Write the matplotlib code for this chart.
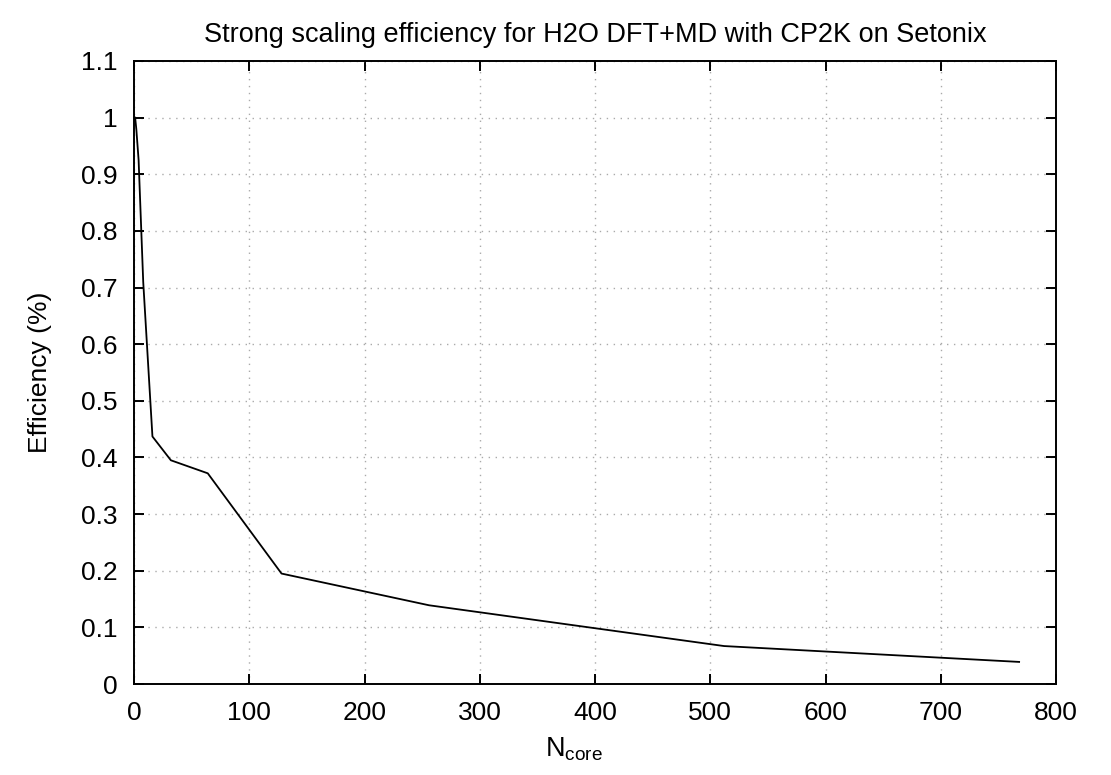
import matplotlib
matplotlib.use("Agg")
import matplotlib.pyplot as plt

# Strong scaling data
n_cores = [1, 2, 4, 8, 16, 32, 64, 128, 256, 512, 768]
efficiency = [1.0, 0.98, 0.925, 0.71, 0.437, 0.395, 0.372, 0.195, 0.139, 0.067, 0.039]

x_ticks = [0, 100, 200, 300, 400, 500, 600, 700, 800]
y_ticks = [0, 0.1, 0.2, 0.3, 0.4, 0.5, 0.6, 0.7, 0.8, 0.9, 1.0, 1.1]
y_tick_labels = ["0", "0.1", "0.2", "0.3", "0.4", "0.5", "0.6", "0.7", "0.8", "0.9", "1", "1.1"]

plt.rcParams['font.family'] = ['Liberation Sans', 'DejaVu Sans']
plt.rcParams['mathtext.fontset'] = 'custom'
plt.rcParams['mathtext.rm'] = 'Liberation Sans'

fig = plt.figure(figsize=(11.11, 7.75), dpi=100)
# axes box: x 134..1056 px, y 61..684 px
ax = fig.add_axes([134 / 1111, 1 - 684 / 775, 922 / 1111, 623 / 775])

ax.plot(n_cores, efficiency, color='black', linewidth=1.3)

ax.set_xlim(0, 800)
ax.set_ylim(0, 1.1)
ax.set_xticks(x_ticks)
ax.set_yticks(y_ticks)
ax.set_yticklabels(y_tick_labels)

ax.tick_params(direction='in', length=7.5, width=1.4, labelsize=19,
               top=True, right=True, pad=12)
for s in ax.spines.values():
    s.set_linewidth(1.4)

ax.grid(True, linestyle=(0, (1, 4)), color='#aaaaaa', linewidth=1.0)

ax.set_title('Strong scaling efficiency for H2O DFT+MD with CP2K on Setonix',
             fontsize=19.5, pad=14)
ax.set_xlabel(r'N$_{\mathrm{core}}$', fontsize=19.5)
ax.xaxis.set_label_coords(0.477, -0.082)
ax.set_ylabel('Efficiency (%)', fontsize=19, labelpad=21)

fig.savefig('out.png', dpi=100)
